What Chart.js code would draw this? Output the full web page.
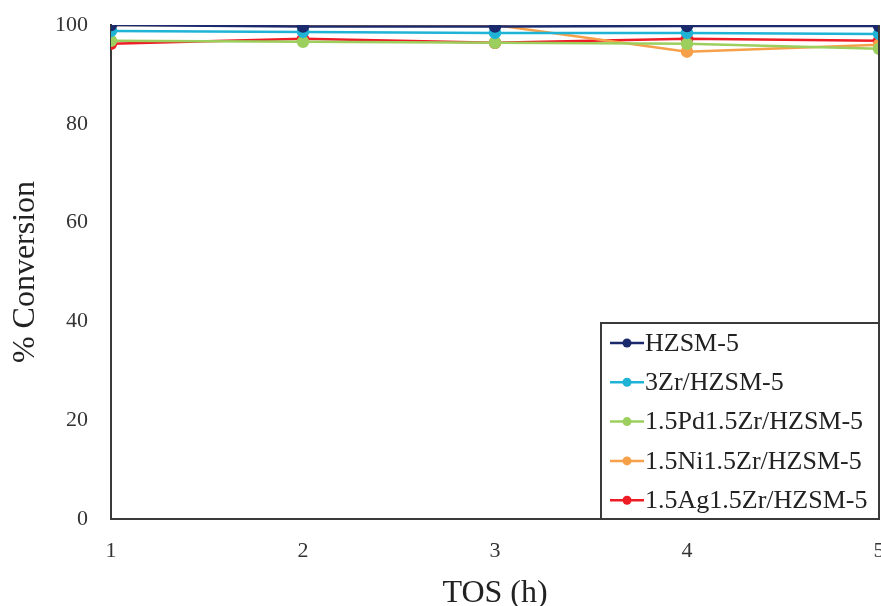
<!DOCTYPE html>
<html>
<head>
<meta charset="utf-8">
<script src="https://cdn.jsdelivr.net/npm/chart.js@4/dist/chart.umd.min.js"></script>
<style>
    html, body { margin: 0; padding: 0; background: #fff; overflow: hidden; }
    #wrap { width: 890px; height: 606px; }
</style>
</head>
<body>
<div id="wrap"><canvas id="convChart" width="890" height="606"></canvas></div>
<script>
const tosHours = [1, 2, 3, 4, 5];
const seriesNames = ['HZSM-5', '3Zr/HZSM-5', '1.5Pd1.5Zr/HZSM-5', '1.5Ni1.5Zr/HZSM-5', '1.5Ag1.5Zr/HZSM-5'];
const hzsm5 = [100, 99.7, 99.7, 99.8, 99.8];
const zr3 = [98.8, 98.6, 98.4, 98.4, 98.2];
const pdZr = [96.8, 96.6, 96.4, 96.2, 95.2];
const niZr = [100, 100, 100, 94.6, 96.0];
const agZr = [96.2, 97.2, 96.4, 97.2, 96.8];
const seriesColors = ['#1a2a6c', '#1fb3d6', '#9ccf5e', '#f7a04a', '#ee1c25'];
const yTicks = [0, 20, 40, 60, 80, 100];

const serif = "'Liberation Serif', 'DejaVu Serif', serif";
const axisColor = '#3a3a3a';

const toPoints = (vals) => vals.map((v, i) => ({ x: tosHours[i], y: v }));
const allSeries = [hzsm5, zr3, pdZr, niZr, agZr];

const datasets = allSeries.map((vals, i) => ({
    label: seriesNames[i],
    data: toPoints(vals),
    borderColor: seriesColors[i],
    backgroundColor: seriesColors[i],
    borderWidth: 2.5,
    pointRadius: 5,
    pointHoverRadius: 5,
    tension: 0
}));

// right edge of the frame + legend box in the lower right corner
const framePlugin = {
    id: 'frameAndLegend',
    afterDraw(chart) {
        const ctx = chart.ctx;
        const a = chart.chartArea;
        ctx.save();
        ctx.strokeStyle = axisColor;
        ctx.lineWidth = 2;
        ctx.beginPath();
        ctx.moveTo(a.right, a.top);
        ctx.lineTo(a.right, a.bottom);
        ctx.stroke();

        const boxLeft = 601, boxTop = 323;
        ctx.fillStyle = '#fff';
        ctx.fillRect(boxLeft, boxTop, a.right - boxLeft, a.bottom - boxTop);
        ctx.strokeRect(boxLeft, boxTop, a.right - boxLeft, a.bottom - boxTop);

        ctx.font = '26px ' + serif;
        ctx.textBaseline = 'middle';
        chart.data.datasets.forEach((ds, i) => {
            const y = 343 + i * 39.3;
            ctx.strokeStyle = ds.borderColor;
            ctx.lineWidth = 2.5;
            ctx.beginPath();
            ctx.moveTo(610, y);
            ctx.lineTo(644, y);
            ctx.stroke();
            ctx.fillStyle = ds.borderColor;
            ctx.beginPath();
            ctx.arc(627, y, 4.5, 0, Math.PI * 2);
            ctx.fill();
            ctx.fillStyle = '#222';
            ctx.fillText(ds.label, 645, y + 1);
        });
        ctx.restore();
    }
};

const ctx = document.getElementById('convChart').getContext('2d');
const chart = new Chart(ctx, {
    type: 'line',
    data: { datasets: datasets },
    options: {
        responsive: false,
        animation: false,
        layout: { autoPadding: false, padding: { top: 25, right: 11, bottom: 0, left: 0 } },
        plugins: {
            legend: { display: false },
            tooltip: { enabled: false }
        },
        scales: {
            x: {
                type: 'linear',
                min: 1,
                max: 5,
                grid: { display: false, drawTicks: false },
                border: { display: true, color: axisColor, width: 2 },
                ticks: {
                    stepSize: 1,
                    padding: 19,
                    color: '#333',
                    font: { family: serif, size: 22 }
                },
                title: {
                    display: true,
                    text: 'TOS (h)',
                    color: '#222',
                    padding: { top: 0, bottom: -7 },
                    font: { family: serif, size: 32 }
                },
                afterFit: (scale) => {
                    scale.height = 87;
                    scale.paddingLeft = 0;
                    scale.paddingRight = 0;
                }
            },
            y: {
                min: 0,
                max: 100,
                grid: { display: false, drawTicks: false },
                border: { display: true, color: axisColor, width: 2 },
                afterBuildTicks: (scale) => { scale.ticks = yTicks.map(v => ({ value: v })); },
                ticks: {
                    padding: 23,
                    color: '#333',
                    font: { family: serif, size: 22 }
                },
                title: {
                    display: true,
                    text: '% Conversion',
                    color: '#222',
                    padding: { top: 6, bottom: 0 },
                    font: { family: serif, size: 32 }
                },
                afterFit: (scale) => {
                    scale.width = 111;
                    scale.paddingTop = 0;
                    scale.paddingBottom = 0;
                }
            }
        }
    },
    plugins: [framePlugin]
});
</script>
</body>
</html>
